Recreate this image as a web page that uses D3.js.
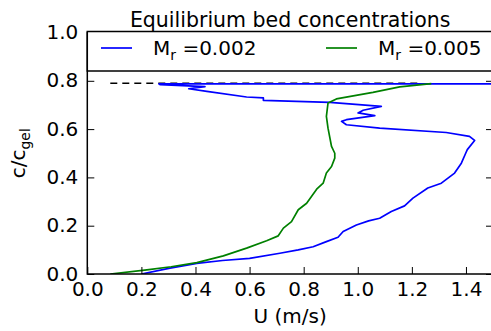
<!DOCTYPE html>
<html>
<head>
<meta charset="utf-8">
<script src="https://cdn.jsdelivr.net/npm/d3@7"></script>
<style>
  body { margin: 0; background: #fff; }
  text { font-family: "DejaVu Sans", sans-serif; fill: #000; }
</style>
</head>
<body>
<div id="chart"></div>
<script>
// velocity U (m/s) and bed concentration c/c_gel
const blueU = [0.20, 0.306, 0.405, 0.50, 0.60, 0.712, 0.78, 0.835, 0.884, 0.927, 0.946, 0.995, 1.040, 1.081,
  1.124, 1.173, 1.204, 1.259, 1.309, 1.358, 1.383, 1.399, 1.405, 1.432, 1.413, 1.327, 1.081, 0.958, 0.940,
  0.958, 1.063, 1.001, 1.020, 1.087, 0.897, 0.651, 0.651, 0.589, 0.442, 0.375, 0.435, 0.27, 0.265, 0.60, 1.55];
const blueC = [0.000, 0.024, 0.044, 0.056, 0.065, 0.086, 0.100, 0.113, 0.134, 0.152, 0.176, 0.203, 0.220, 0.231,
  0.259, 0.282, 0.314, 0.356, 0.376, 0.418, 0.459, 0.500, 0.515, 0.553, 0.570, 0.586, 0.604, 0.618, 0.632,
  0.639, 0.656, 0.667, 0.678, 0.694, 0.711, 0.719, 0.729, 0.733, 0.756, 0.767, 0.776, 0.784, 0.787, 0.787, 0.787];

const greenU = [0.085, 0.22, 0.31, 0.405, 0.503, 0.589, 0.663, 0.706, 0.725, 0.755, 0.780, 0.811, 0.848, 0.872,
  0.884, 0.903, 0.915, 0.915, 0.903, 0.890, 0.884, 0.890, 0.921, 1.056, 1.155, 1.272];
const greenC = [0.000, 0.017, 0.030, 0.047, 0.075, 0.107, 0.138, 0.158, 0.190, 0.217, 0.266, 0.293, 0.351, 0.376,
  0.418, 0.445, 0.480, 0.500, 0.528, 0.604, 0.653, 0.708, 0.725, 0.752, 0.775, 0.788];

const gelLineU = [0.085, 1.23];
const gelLineC = 0.79;

const xTicks = [0, 0.2, 0.4, 0.6, 0.8, 1.0, 1.2, 1.4];
const yTicks = [0, 0.2, 0.4, 0.6, 0.8, 1.0];

const series = [
  { name: "0.002", color: "#0000ff", u: blueU, c: blueC },
  { name: "0.005", color: "#008000", u: greenU, c: greenC }
];

const width = 491, height = 331;
const m = { left: 87.3, right: 493, top: 32.5, bottom: 274 };
const fs = 20;

const svg = d3.select("#chart").append("svg")
  .attr("width", width).attr("height", height);

const x = d3.scaleLinear().domain([0, 1.5]).range([m.left, m.right]);
const y = d3.scaleLinear().domain([0, 1]).range([m.bottom, m.top]);

const plot = svg.append("g");
plot.append("clipPath").attr("id", "clip")
  .append("rect").attr("x", m.left).attr("y", m.top)
  .attr("width", m.right - m.left).attr("height", m.bottom - m.top);

// dashed gel line
plot.append("line")
  .attr("x1", x(gelLineU[0])).attr("x2", x(gelLineU[1]))
  .attr("y1", y(gelLineC)).attr("y2", y(gelLineC))
  .attr("stroke", "#000").attr("stroke-width", 1.6)
  .attr("stroke-dasharray", "7,5");

const line = d3.line().x((d) => x(d[0])).y((d) => y(d[1]));

series.forEach((s) => {
  plot.append("path")
    .datum(s.u.map((u, i) => [u, s.c[i]]))
    .attr("clip-path", "url(#clip)")
    .attr("fill", "none")
    .attr("stroke", s.color)
    .attr("stroke-width", 1.7)
    .attr("stroke-linejoin", "round")
    .attr("d", line);
});

// axes, ticks pointing inward
const xAxis = svg.append("g").attr("transform", `translate(0,${m.bottom})`)
  .call(d3.axisBottom(x).tickValues(xTicks).tickFormat(d3.format(".1f")).tickSizeInner(-7).tickSizeOuter(0).tickPadding(8));
const yAxis = svg.append("g").attr("transform", `translate(${m.left},0)`)
  .call(d3.axisLeft(y).tickValues(yTicks).tickFormat(d3.format(".1f")).tickSizeInner(-7).tickSizeOuter(0).tickPadding(9));
svg.append("g").attr("transform", `translate(${m.right},0)`)
  .call(d3.axisRight(y).tickValues(yTicks).tickFormat("").tickSizeInner(-7).tickSizeOuter(0));

[xAxis, yAxis].forEach((a) => {
  a.select(".domain").remove();
  a.selectAll("text").style("font-size", fs + "px").style("font-family", "DejaVu Sans");
});
yAxis.selectAll("text").attr("dy", "0.3em");
svg.selectAll(".tick line").attr("stroke", "#000").attr("stroke-width", 1);

svg.append("rect")
  .attr("x", m.left).attr("y", m.top).attr("width", m.right - m.left).attr("height", m.bottom - m.top)
  .attr("fill", "none").attr("stroke", "#000").attr("stroke-width", 1.5);

// legend box across the top
const legTop = 31.5, legBottom = 71;
svg.append("rect")
  .attr("x", m.left).attr("y", legTop).attr("width", m.right - m.left).attr("height", legBottom - legTop)
  .attr("fill", "#fff").attr("stroke", "#000").attr("stroke-width", 1.5);

const legX = [101, 326];
series.forEach((s, i) => {
  const lx = legX[i], ly = 48;
  svg.append("line")
    .attr("x1", lx).attr("x2", lx + 31).attr("y1", ly).attr("y2", ly)
    .attr("stroke", s.color).attr("stroke-width", 1.7);
  const t = svg.append("text").attr("x", lx + 52).attr("y", 55).style("font-size", fs + "px");
  t.append("tspan").text("M");
  t.append("tspan").attr("dy", 5).style("font-size", "14px").text("r");
  t.append("tspan").attr("dy", -5).text(" =" + s.name);
});

// title and axis labels
svg.append("text").attr("x", (m.left + m.right) / 2).attr("y", 27)
  .attr("text-anchor", "middle").style("font-size", "20.5px")
  .text("Equilibrium bed concentrations");

svg.append("text").attr("x", (m.left + m.right) / 2).attr("y", 323)
  .attr("text-anchor", "middle").style("font-size", fs + "px")
  .text("U (m/s)");

const yl = svg.append("text")
  .attr("transform", `translate(25,${(m.top + m.bottom) / 2}) rotate(-90)`)
  .attr("text-anchor", "middle").style("font-size", fs + "px");
yl.append("tspan").text("c/c");
yl.append("tspan").attr("dy", 5).style("font-size", "14px").text("gel");
</script>
</body>
</html>
